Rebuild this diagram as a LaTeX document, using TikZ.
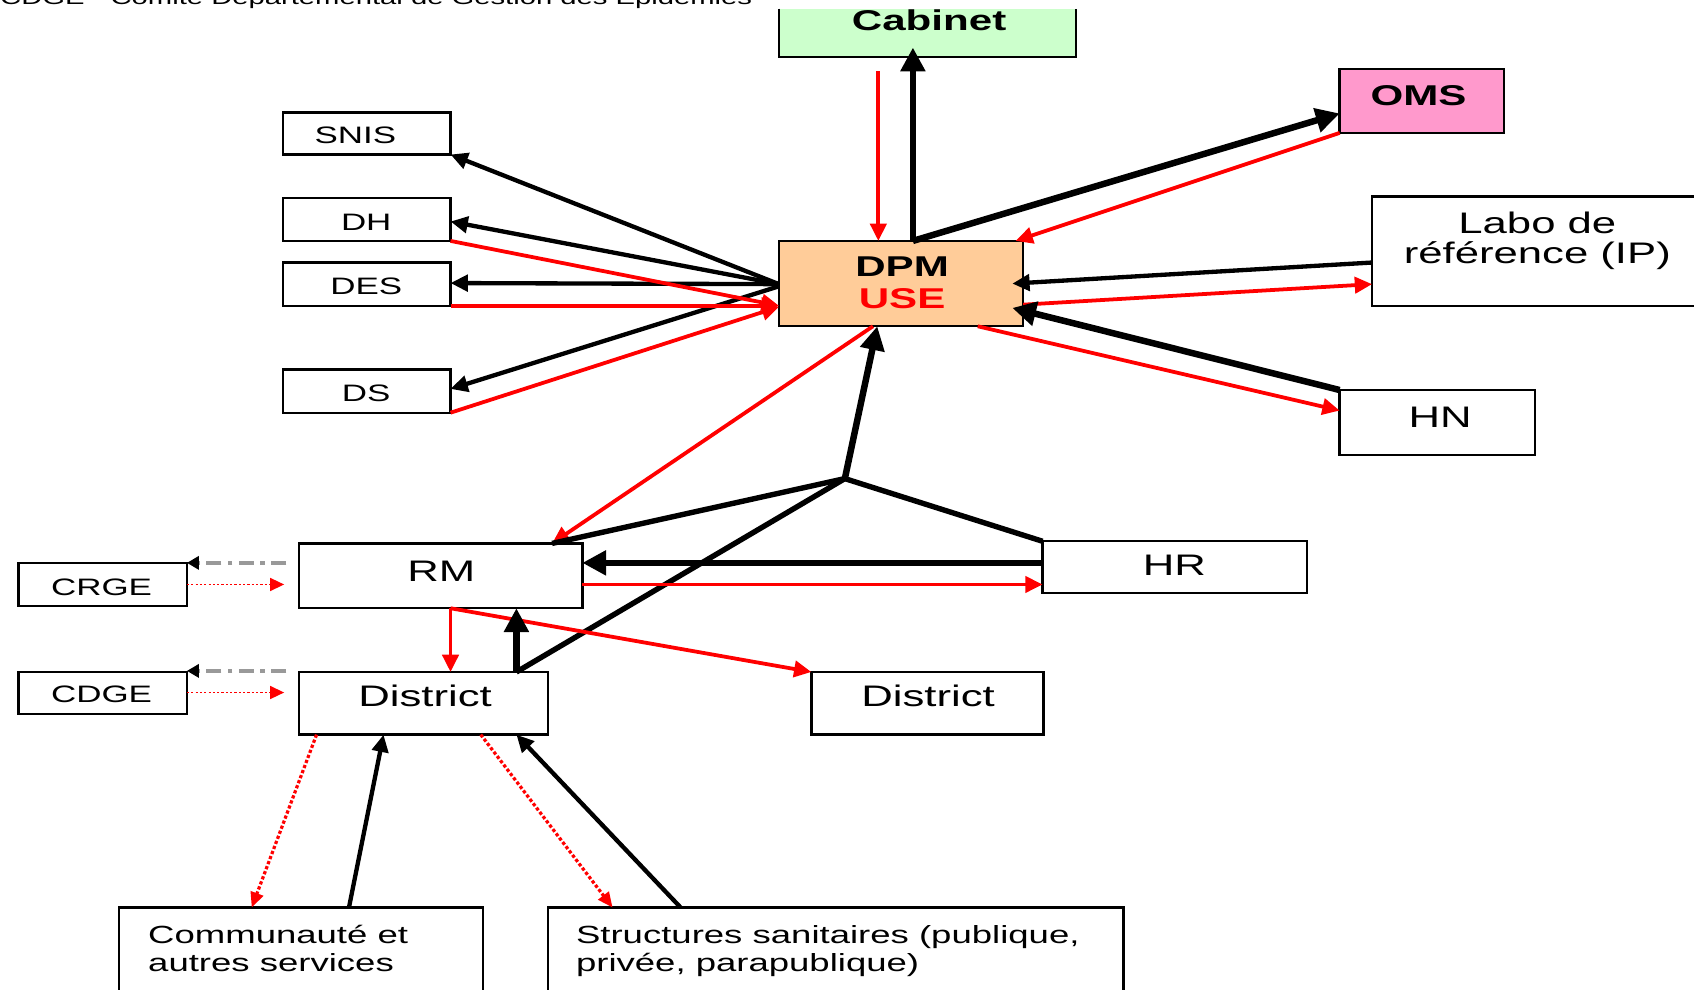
\documentclass[tikz,border=0pt]{standalone}
\usepackage{fontspec}
\setmainfont{Liberation Sans}[FakeStretch=1.47]
\usetikzlibrary{arrows.meta,calc}
\definecolor{cabg}{HTML}{CCFFCC}
\definecolor{omsp}{HTML}{FF99CC}
\definecolor{dpmo}{HTML}{FFCC99}
\definecolor{rd}{HTML}{FF0000}
\newcommand\fsS{\fontsize{22}{26}\selectfont}
\newcommand\fsM{\fontsize{23}{26}\selectfont}
\newcommand\fsL{\fontsize{27.5}{28}\selectfont}
\newcommand\fsB{\fontsize{26.5}{30}\selectfont\bfseries}
\newcommand\fsD{\fontsize{26.5}{30}\selectfont\bfseries}
\newcommand\fsH{\fontsize{18.4}{22}\selectfont}
\begin{document}
\begin{tikzpicture}[x=1pt,y=-1pt,
  bx/.style={draw=black, line width=2.2pt, inner sep=0pt, outer sep=0pt, fill=white},
  lbl/.style={inner sep=0pt, anchor=base},
  kthick/.style={draw=black, line width=6pt, -{Triangle[length=22pt,width=22pt]}},
  kmed/.style={draw=black, line width=4pt, -{Triangle[length=16pt,width=15pt]}},
  rarr/.style={draw=rd, line width=3.5pt, -{Triangle[length=16pt,width=15pt]}},
  jline/.style={draw=black, line width=5pt, line join=round},
  gdash/.style={draw=black!40, line width=3.5pt, dash pattern=on 14pt off 6pt on 4pt off 6pt, -{Triangle[length=11pt,width=12pt,color=black]}},
  rdot/.style={draw=rd, line width=1.6pt, dash pattern=on 2pt off 2pt, -{Triangle[length=13pt,width=12pt]}},
  rdotb/.style={draw=rd, line width=3pt, dash pattern=on 3pt off 2pt, -{Triangle[length=14pt,width=12pt]}}
]
\useasboundingbox (0,0) rectangle (1568,916);
\fill[white] (0,0) rectangle (1568,916);

% header (cropped at the top edge, as in the reference)
\node[lbl, anchor=base west, font=\fsH] (thdr) at (0,4) {CDGE - Comité Départemental de Gestion des Epidémies};

% boxes
\node[inner sep=0pt, outer sep=0pt, fill=cabg, minimum width=275pt, minimum height=45pt] (cab) at (858.5,30.5) {};
\draw[line width=2.2pt] (cab.north west) -- (cab.south west) -- (cab.south east) -- (cab.north east);
\node[bx, fill=omsp, minimum width=152pt, minimum height=59pt] (oms) at (1316,93.5) {};
\node[bx, minimum width=155pt, minimum height=39pt] (snis) at (339.5,123.5) {};
\node[bx, minimum width=155pt, minimum height=40pt] (dh) at (339.5,203) {};
\node[bx, minimum width=155pt, minimum height=40pt] (des) at (339.5,263) {};
\node[bx, minimum width=155pt, minimum height=40pt] (ds) at (339.5,362) {};
\node[bx, fill=dpmo, minimum width=226pt, minimum height=79pt] (dpm) at (834,262.5) {};
\node[bx, minimum width=330pt, minimum height=101pt] (labo) at (1435,232.5) {};
\node[bx, minimum width=181pt, minimum height=60pt] (hn) at (1330.5,391) {};
\node[bx, minimum width=245pt, minimum height=48pt] (hr) at (1087.5,525) {};
\node[bx, minimum width=262pt, minimum height=60pt] (rm) at (408,533) {};
\node[bx, minimum width=156pt, minimum height=40pt] (crge) at (95,541) {};
\node[bx, minimum width=156pt, minimum height=39pt] (cdge) at (95,641.5) {};
\node[bx, minimum width=230pt, minimum height=58pt] (distl) at (392,651) {};
\node[bx, minimum width=215pt, minimum height=58pt] (distr) at (858.5,651) {};
\node[bx, minimum width=337pt, minimum height=110pt] (comm) at (278.5,895) {};
\node[bx, minimum width=533pt, minimum height=110pt] (struct) at (773.5,895) {};

% helper coordinates
\coordinate (cabred) at (813,66);
\coordinate (cabtip) at (845,44);
\coordinate (jn) at (782,443);
\coordinate (dpmr1) at ($(dpm.east)+(-10,0)$);
\coordinate (dpmr2) at ($(dpm.south east)+(-10,-17)$);
\coordinate (crgeA) at ($(rm.west)+(-12,-12)$);
\coordinate (crgeB) at ($(rm.west)+(-14,8)$);
\coordinate (cdgeA) at ($(distl.west)+(-12,-30)$);
\coordinate (cdgeB) at ($(distl.west)+(-14,-10)$);

% Cabinet
\draw[rarr] (cabred) -- (813,0 |- dpm.north);
\draw[kthick] (845,0 |- dpm.north) -- (cabtip);
% OMS
\draw[kthick] (845,0 |- dpm.north) -- (oms.west |- 0,105);
\draw[rarr] (oms.south west) -- (940,0 |- dpm.north);
% Labo
\draw[kmed] (labo.west |- 0,243) -- (dpmr1);
\draw[rarr] (dpm.east |- 0,282) -- (labo.west |- 0,263);
% HN
\draw[kthick] (hn.north west) -- (dpmr2);
\draw[rarr] (905,0 |- dpm.south) -- (hn.west |- 0,380);
% left group
\draw[kmed] (dpm.west |- 0,263) -- (snis.south east);
\draw[kmed] (dpm.west |- 0,263) -- (dh.east |- 0,205);
\draw[kmed] (dpm.west |- 0,263) -- (des.east |- 0,262);
\draw[kmed] (dpm.west |- 0,265) -- (ds.east |- 0,360);
\draw[rarr] (dh.south east) -- (dpm.west |- 0,283);
\draw[rarr] (des.south east) -- (dpm.west |- 0,283);
\draw[rarr] (ds.south east) -- (dpm.west |- 0,284);
% centre
\draw[rarr] (808,0 |- dpm.south) -- (511,0 |- rm.north);
\draw[jline] (511,0 |- rm.north) -- (jn) -- (hr.north west);
\draw[jline] (jn) -- (478,0 |- distl.north);
\draw[kthick] (jn) -- (812,0 |- dpm.south);
\draw[kthick] (hr.west |- 0,521) -- (rm.east |- 0,521);
\draw[rarr] (rm.east |- 0,541) -- (hr.west |- 0,541);
\draw[rarr] (417,0 |- rm.south) -- (417,0 |- distl.north);
\draw[rarr] (417,0 |- rm.south) -- (distr.north west);
\draw[kthick] (478,0 |- distl.north) -- (478,0 |- rm.south);
% CRGE / CDGE
\draw[gdash] (crgeA) -- (crge.east |- crgeA);
\draw[rdot] (crge.east |- crgeB) -- (crgeB);
\draw[gdash] (cdgeA) -- (cdge.east |- cdgeA);
\draw[rdot] (cdge.east |- cdgeB) -- (cdgeB);
% bottom
\draw[rdotb] (293,0 |- distl.south) -- (233,0 |- comm.north);
\draw[kmed] (323,0 |- comm.north) -- (355,0 |- distl.south);
\draw[rdotb] (445,0 |- distl.south) -- (567,0 |- struct.north);
\draw[kmed] (630,0 |- struct.north) -- (478,0 |- distl.south);

% texts
\node[lbl, font=\fsB] (tcab) at (860,28) {Cabinet};
\node[lbl, font=\fsB] (toms) at (1313,98) {OMS};
\node[lbl, font=\fsS] (tsnis) at (329,133) {SNIS};
\node[lbl, font=\fsS] (tdh) at (339,213) {DH};
\node[lbl, font=\fsS] (tdes) at (339,273) {DES};
\node[lbl, font=\fsS] (tds) at (339,372) {DS};
\node[lbl, font=\fsD] (tdpm) at (835,256) {\parbox[t]{220pt}{\centering DPM\\\textcolor{rd}{USE}}};
\node[lbl, font=\fsL] (tlabo) at (1423,216) {\parbox[t]{300pt}{\centering Labo de\\référence (IP)}};
\node[lbl, font=\fsL] (thn) at (1333,396) {HN};
\node[lbl, font=\fsL] (thr) at (1087,533) {HR};
\node[lbl, font=\fsL] (trm) at (408.5,538) {RM};
\node[lbl, font=\fsL] (tdl) at (393.5,654) {District};
\node[lbl, font=\fsL] (tdr) at (859,654) {District};
\node[lbl, font=\fsS] (tcrge) at (94,551) {CRGE};
\node[lbl, font=\fsS] (tcdge) at (94,650) {CDGE};
\node[lbl, anchor=base west, font=\fsM] (tcomm) at (137,873) {\parbox[t]{300pt}{\raggedright Communauté et\\autres services}};
\node[lbl, anchor=base west, font=\fsM] (tstruct) at (533,873) {\parbox[t]{500pt}{\raggedright Structures sanitaires (publique,\\privée, parapublique)}};
\end{tikzpicture}
\end{document}
